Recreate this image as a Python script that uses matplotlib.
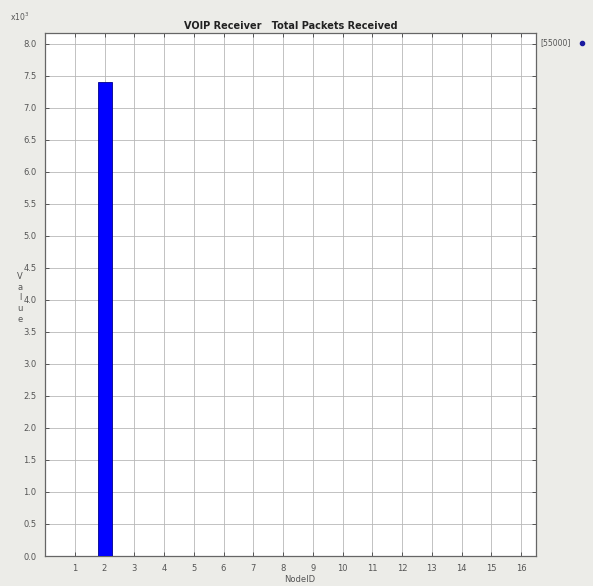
import numpy as np
import matplotlib
matplotlib.use("Agg")
import matplotlib.pyplot as plt

# Data
node_ids = [2]
packets = [7400]
series_name = "[55000]"
title = "VOIP Receiver   Total Packets Received"
x_ticks = list(range(1, 17))
y_ticks = [0.0, 0.5, 1.0, 1.5, 2.0, 2.5, 3.0, 3.5, 4.0, 4.5, 5.0, 5.5, 6.0, 6.5, 7.0, 7.5, 8.0]

bg = "#ecece8"
txt_col = "#555555"

fig = plt.figure(figsize=(5.93, 5.86), dpi=100, facecolor=bg)
ax = fig.add_axes([45/593, 1 - 556/586, 491/593, 523/586])
ax.set_facecolor("white")

vals = np.array(packets) / 1000.0
ax.bar(node_ids, vals, width=0.47, color="#0000ff", edgecolor="#00008b", linewidth=0.6, zorder=3)

ax.set_xlim(0, 16.5)
ax.set_ylim(0, 8.17)
ax.set_xticks(x_ticks)
ax.set_yticks(y_ticks)
ax.set_xticklabels([str(t) for t in x_ticks])
ax.set_yticklabels(["%.1f" % t for t in y_ticks])
ax.tick_params(direction="in", length=3, width=0.6, labelsize=6, colors="#444444",
               labelcolor=txt_col, top=True, right=True, pad=6)
ax.grid(True, color="#b8b8b8", linewidth=0.6, zorder=0)
for s in ax.spines.values():
    s.set_color("#666666")
    s.set_linewidth(0.9)

ax.set_title(title, fontsize=7, fontweight="bold", color="#222222", pad=3)
fig.text(300/593, 1 - 580/586, "NodeID", fontsize=6, color=txt_col, ha="center", va="center")
fig.text(20/593, 1 - 298/586, "V\na\nl\nu\ne", fontsize=6, color=txt_col, ha="center",
         va="center", linespacing=1.25)
fig.text(20/593, 1 - 17/586, r"x10$^3$", fontsize=5.5, color=txt_col, ha="center", va="center")

# legend entry outside the axes
fig.text(540/593, 1 - 43/586, series_name, fontsize=5.5, color=txt_col, ha="left", va="center")
fig.add_artist(plt.Line2D([582/593], [1 - 43/586], marker="o", markersize=3,
                          color="#1a1aa0", transform=fig.transFigure))

fig.savefig("out.png", dpi=100, facecolor=bg)
